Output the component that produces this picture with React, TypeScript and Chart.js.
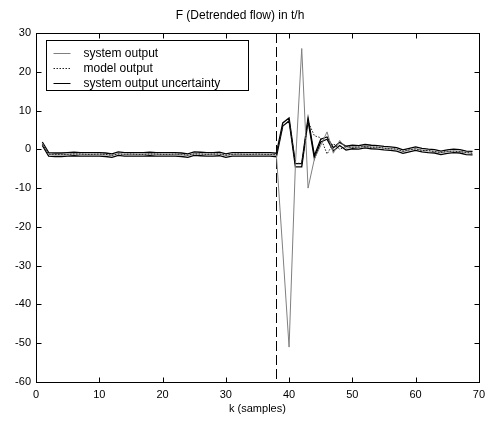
import React, { useEffect, useRef } from "react";
import { Chart, registerables } from "chart.js";
Chart.register(...registerables);

const FONT = "'Liberation Sans', Arial, Helvetica, sans-serif";

const chartTitle = "F (Detrended flow) in t/h";
const xAxisTitle = "k (samples)";
const legendLabels = ["system output", "model output", "system output uncertainty"];
const xTicks = [0, 10, 20, 30, 40, 50, 60, 70];
const yTicks = [-60, -50, -40, -30, -20, -10, 0, 10, 20, 30];
const changeSample = 38;

const kSamples = [
  1, 2, 3, 4, 5, 6, 7, 8, 9, 10, 11, 12, 13, 14, 15, 16, 17, 18, 19, 20,
  21, 22, 23, 24, 25, 26, 27, 28, 29, 30, 31, 32, 33, 34, 35, 36, 37, 38, 39, 40,
  41, 42, 43, 44, 45, 46, 47, 48, 49, 50, 51, 52, 53, 54, 55, 56, 57, 58, 59, 60,
  61, 62, 63, 64, 65, 66, 67, 68, 69,
];

const systemOutput = [
  1.5,
  -1.3, -1.4, -1.4, -1.3, -1.2, -1.3, -1.3, -1.3, -1.3, -1.4,
  -1.6, -1.1, -1.3, -1.3, -1.3, -1.3, -1.2, -1.3, -1.3, -1.3,
  -1.3, -1.4, -1.6, -1.1, -1.2, -1.3, -1.3, -1.2, -1.6, -1.3,
  -1.3, -1.3, -1.3, -1.3, -1.3, -1.3,
  -1.5, -26, -51, -4, 26, -10, -2.5, 1, 4.5, -1, 2.3, 0.3,
  0.6, 0.5, 0.8, 0.6, 0.5, 0.3, 0.2, 0, -0.6, -0.2,
  0.2, -0.2, -0.4, -0.5, -0.9, -0.6, -0.4, -0.5, -0.9, -1.0,
];

const modelOutput = [
  1.3,
  -1.2, -1.3, -1.3, -1.3, -1.2, -1.2, -1.3, -1.3, -1.2, -1.3,
  -1.5, -1.2, -1.3, -1.2, -1.3, -1.3, -1.2, -1.2, -1.3, -1.3,
  -1.2, -1.3, -1.5, -1.2, -1.2, -1.3, -1.2, -1.2, -1.5, -1.3,
  -1.2, -1.3, -1.3, -1.2, -1.3, -1.3,
  -1.4, 6, 7.5, -3.6, -3.6, 7.2, 3.5, 3, -1.2, 1.5, 0, 0.8,
  0.5, 0.6, 0.7, 0.5, 0.6, 0.3, 0.1, 0.1, -0.5, -0.1,
  0.1, -0.3, -0.3, -0.6, -0.8, -0.5, -0.5, -0.6, -0.8, -1.0,
];

const uncertaintyUpper = [
  1.9,
  -0.85, -0.95, -0.95, -0.85, -0.75, -0.85, -0.85, -0.85, -0.85, -0.95,
  -1.15, -0.65, -0.85, -0.85, -0.85, -0.85, -0.75, -0.85, -0.85, -0.85,
  -0.85, -0.95, -1.15, -0.65, -0.75, -0.85, -0.85, -0.75, -1.15, -0.85,
  -0.85, -0.85, -0.85, -0.85, -0.85, -0.85,
  -1.0, 6.8, 8.1, -3.7, -3.7, 8.1, -1.6, 2.6, 3.2, 0.4, 1.8, 0.8,
  1.05, 0.95, 1.25, 1.05, 0.95, 0.75, 0.65, 0.45, -0.15, 0.25,
  0.65, 0.25, 0.05, -0.05, -0.45, -0.15, 0.05, -0.05, -0.45, -0.55,
];

const uncertaintyLower = [
  1.0,
  -1.75, -1.85, -1.85, -1.75, -1.65, -1.75, -1.75, -1.75, -1.75, -1.85,
  -2.05, -1.55, -1.75, -1.75, -1.75, -1.75, -1.65, -1.75, -1.75, -1.75,
  -1.75, -1.85, -2.05, -1.55, -1.65, -1.75, -1.75, -1.65, -2.05, -1.75,
  -1.75, -1.75, -1.75, -1.75, -1.75, -1.75,
  -1.9, 6.0, 7.3, -4.5, -4.5, 7.4, -2.4, 1.9, 2.6, -0.4, 1.0, -0.2,
  0.15, 0.05, 0.35, 0.15, 0.05, -0.15, -0.25, -0.45, -1.05, -0.65,
  -0.25, -0.65, -0.85, -0.95, -1.35, -1.05, -0.85, -0.95, -1.35, -1.45,
];

const toPoints = (ys: number[]) => ys.map((y, i) => ({ x: kSamples[i], y }));

const GRAY = "#7f7f7f";
const BLACK = "#000000";

const framePlugin = {
  id: "matlabFrame",
  beforeDatasetsDraw(chart: any) {
    const { ctx, chartArea, scales } = chart;
    const x = Math.round(scales.x.getPixelForValue(changeSample)) + 0.5;
    ctx.save();
    ctx.strokeStyle = BLACK;
    ctx.lineWidth = 1;
    ctx.setLineDash([10, 4]);
    ctx.beginPath();
    ctx.moveTo(x, chartArea.top);
    ctx.lineTo(x, chartArea.bottom);
    ctx.stroke();
    ctx.restore();
  },
  afterDatasetsDraw(chart: any) {
    const { ctx, chartArea } = chart;
    const left = chartArea.left + 10.5;
    const top = chartArea.top + 7.5;
    const w = 202;
    const h = 50;
    ctx.save();
    ctx.fillStyle = "#ffffff";
    ctx.fillRect(left, top, w, h);
    ctx.strokeStyle = BLACK;
    ctx.lineWidth = 1;
    ctx.strokeRect(left, top, w, h);
    const styles = [
      { color: GRAY, dash: [] as number[] },
      { color: "#222222", dash: [1.5, 1.5] },
      { color: BLACK, dash: [] as number[] },
    ];
    ctx.font = `12px ${FONT}`;
    ctx.textBaseline = "middle";
    ctx.textAlign = "left";
    legendLabels.forEach((label, i) => {
      const y = Math.round(top + 12 + i * 15) + 0.5;
      ctx.strokeStyle = styles[i].color;
      ctx.setLineDash(styles[i].dash);
      ctx.beginPath();
      ctx.moveTo(left + 7, y);
      ctx.lineTo(left + 24, y);
      ctx.stroke();
      ctx.setLineDash([]);
      ctx.fillStyle = BLACK;
      ctx.fillText(label, left + 37, y);
    });
    ctx.restore();
  },
  afterDraw(chart: any) {
    const { ctx, chartArea, scales } = chart;
    const l = Math.round(chartArea.left) + 0.5;
    const r = Math.round(chartArea.right) + 0.5;
    const t = Math.round(chartArea.top) + 0.5;
    const b = Math.round(chartArea.bottom) + 0.5;
    ctx.save();
    ctx.strokeStyle = BLACK;
    ctx.lineWidth = 1;
    ctx.setLineDash([]);
    ctx.strokeRect(l, t, r - l, b - t);
    const tl = 5;
    ctx.beginPath();
    xTicks.forEach((v) => {
      const px = Math.round(scales.x.getPixelForValue(v)) + 0.5;
      ctx.moveTo(px, b);
      ctx.lineTo(px, b - tl);
      ctx.moveTo(px, t);
      ctx.lineTo(px, t + tl);
    });
    yTicks.forEach((v) => {
      const py = Math.round(scales.y.getPixelForValue(v)) + 0.5;
      ctx.moveTo(l, py);
      ctx.lineTo(l + tl, py);
      ctx.moveTo(r, py);
      ctx.lineTo(r - tl, py);
    });
    ctx.stroke();
    ctx.restore();
  },
};

export default function App() {
  const canvasRef = useRef<HTMLCanvasElement | null>(null);

  useEffect(() => {
    document.body.style.margin = "0";
    const canvas = canvasRef.current;
    if (!canvas) return;
    const chart = new Chart(canvas, {
      type: "line",
      data: {
        datasets: [
          {
            label: legendLabels[1],
            data: toPoints(modelOutput),
            borderColor: "#222222",
            borderWidth: 1,
            borderDash: [1.5, 1.5],
            pointRadius: 0,
            tension: 0,
            order: 1,
          },
          {
            label: legendLabels[0],
            data: toPoints(systemOutput),
            borderColor: GRAY,
            borderWidth: 1,
            pointRadius: 0,
            tension: 0,
            order: 2,
          },
          {
            label: legendLabels[2],
            data: toPoints(uncertaintyUpper),
            borderColor: BLACK,
            borderWidth: 1.3,
            pointRadius: 0,
            tension: 0,
            order: 3,
          },
          {
            label: legendLabels[2] + " (lower)",
            data: toPoints(uncertaintyLower),
            borderColor: BLACK,
            borderWidth: 1.3,
            pointRadius: 0,
            tension: 0,
            order: 3,
          },
        ],
      },
      options: {
        responsive: true,
        maintainAspectRatio: false,
        animation: false,
        layout: { padding: { left: 0, right: 11, top: 0, bottom: 0 } },
        plugins: {
          legend: { display: false },
          tooltip: { enabled: false },
          title: {
            display: true,
            text: chartTitle,
            color: BLACK,
            font: { family: FONT, size: 12, weight: "normal" as any, lineHeight: 1.2 },
            padding: { top: 8, bottom: 10.6 },
          },
        },
        scales: {
          x: {
            type: "linear",
            min: 0,
            max: 70,
            grid: { display: false, drawTicks: false },
            border: { display: false },
            afterFit: (s: any) => {
              s.height = 41;
            },
            afterBuildTicks: (s: any) => {
              s.ticks = xTicks.map((v) => ({ value: v }));
            },
            ticks: {
              color: BLACK,
              font: { family: FONT, size: 11 },
              padding: 6,
              maxRotation: 0,
              autoSkip: false,
            },
            title: {
              display: true,
              text: xAxisTitle,
              color: BLACK,
              font: { family: FONT, size: 11 },
              padding: { top: 0, bottom: 7 },
            },
          },
          y: {
            type: "linear",
            min: -60,
            max: 30,
            grid: { display: false, drawTicks: false },
            border: { display: false },
            afterFit: (s: any) => {
              s.width = 36;
            },
            afterBuildTicks: (s: any) => {
              s.ticks = yTicks.map((v) => ({ value: v }));
            },
            ticks: {
              color: BLACK,
              font: { family: FONT, size: 11 },
              padding: 5,
              autoSkip: false,
            },
          },
        },
      },
      plugins: [framePlugin],
    });
    return () => chart.destroy();
  }, []);

  return (
    <div style={{ position: "absolute", left: 0, top: 0, width: 491, height: 423, background: "#fff" }}>
      <canvas ref={canvasRef} />
    </div>
  );
}
